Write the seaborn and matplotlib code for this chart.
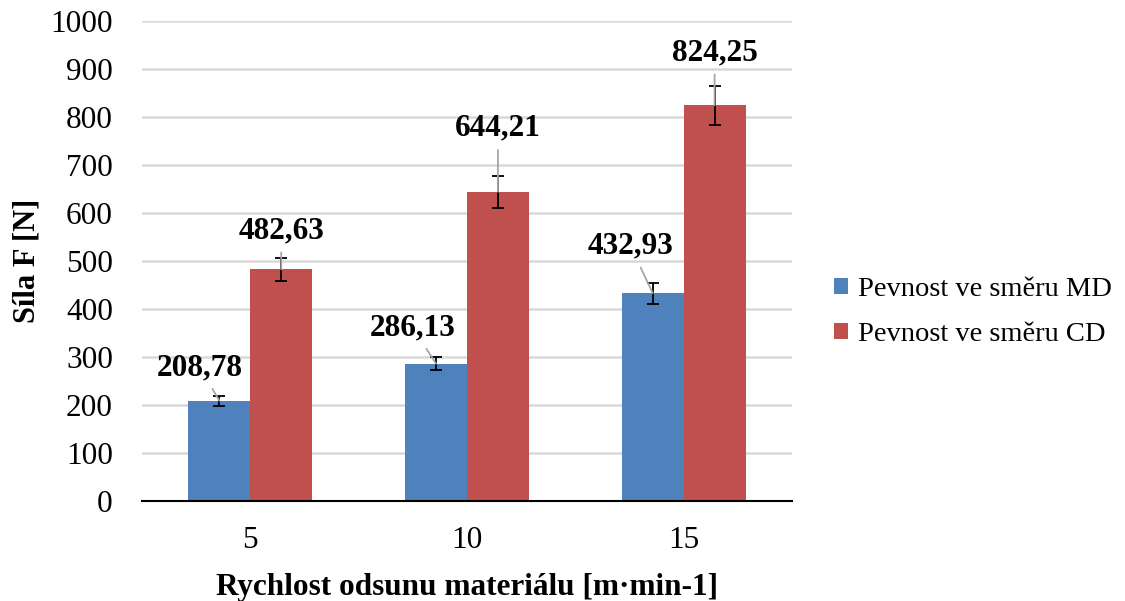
import numpy as np
import pandas as pd
import matplotlib
matplotlib.use("Agg")
import matplotlib.pyplot as plt
import seaborn as sns

# values
speeds = ["5", "10", "15"]
series = ["Pevnost ve směru MD", "Pevnost ve směru CD"]
md_values = [208.78, 286.13, 432.93]
cd_values = [482.63, 644.21, 824.25]
md_errors = [10, 14, 22]
cd_errors = [24, 33, 41]

colors = ["#4F81BD", "#C0504D"]
# label offsets (points) from the bar top, per series
md_offsets = [(-14, 24), (-17, 26), (-16, 34)]
cd_offsets = [(0, 28), (0, 46), (0, 38)]

sns.set_style("white")
plt.rcParams['font.family'] = ['Liberation Serif', 'DejaVu Serif']
plt.rcParams['text.color'] = 'black'
plt.rcParams['axes.labelcolor'] = 'black'
plt.rcParams['xtick.color'] = 'black'
plt.rcParams['ytick.color'] = 'black'

df = pd.DataFrame({
    "speed": speeds * 2,
    "force": md_values + cd_values,
    "series": [series[0]] * 3 + [series[1]] * 3,
})

fig = plt.figure(figsize=(11.25, 6.01), dpi=100)
ax = fig.add_axes([142 / 1125, 1 - 501 / 601, 650 / 1125, 480 / 601])

sns.barplot(data=df, x="speed", y="force", hue="series", order=speeds,
            hue_order=series, palette=colors, width=0.571, gap=0,
            saturation=1, errorbar=None, ax=ax, linewidth=0)

all_errors = [md_errors, cd_errors]
all_offsets = [md_offsets, cd_offsets]
for container, errs, offs in zip(ax.containers, all_errors, all_offsets):
    for bar, err, off in zip(container, errs, offs):
        x = bar.get_x() + bar.get_width() / 2
        h = bar.get_height()
        ax.errorbar(x, h, yerr=err, color="black", capsize=4.5, lw=1.3,
                    capthick=1.3, zorder=4)
        label = f"{h:.2f}".replace(".", ",")
        ax.annotate(label, xy=(x, h), xytext=off, textcoords="offset points",
                    ha="center", va="center", fontsize=22.5, fontweight="bold",
                    color="black", zorder=5,
                    arrowprops=dict(arrowstyle="-", color="#A6A6A6", lw=1.3,
                                    shrinkA=3, shrinkB=0))

ax.set_ylim(0, 1000)
ax.set_yticks(range(0, 1001, 100))
ax.set_xlim(-0.5, 2.5)
ax.set_axisbelow(True)
ax.yaxis.grid(True, color="#D9D9D9", lw=1.8)
ax.xaxis.grid(False)

for s in ["left", "right", "top"]:
    ax.spines[s].set_visible(False)
ax.spines["bottom"].set_color("black")
ax.spines["bottom"].set_linewidth(1.5)

ax.tick_params(axis="y", length=0, pad=21, labelsize=22.5, colors="black")
ax.tick_params(axis="x", which="major", length=0, pad=18, labelsize=22.5,
               colors="black")
ax.set_xticks([-0.5, 0.5, 1.5, 2.5], minor=True)
ax.tick_params(axis="x", which="minor", length=9, width=1.5, direction="out",
               color="black")

ax.set_xlabel("Rychlost odsunu materiálu [m·min-1]", fontsize=22.5,
              fontweight="bold")
ax.set_ylabel("Síla F [N]", fontsize=22, fontweight="bold")
ax.xaxis.set_label_coords(0.5, -0.15)
ax.yaxis.set_label_coords(-0.177, 0.5)
ax.xaxis.label.set_va("top")
ax.yaxis.label.set_va("center")

handles, labels = ax.get_legend_handles_labels()
ax.legend(handles, labels, loc="center left",
          bbox_to_anchor=(834 / 1125, 1 - 312 / 601),
          bbox_transform=fig.transFigure, frameon=False, fontsize=20.5,
          handlelength=0.5, handleheight=0.5, handletextpad=0.35,
          labelspacing=0.7, borderpad=0, borderaxespad=0)

fig.savefig("out.png", dpi=100)
